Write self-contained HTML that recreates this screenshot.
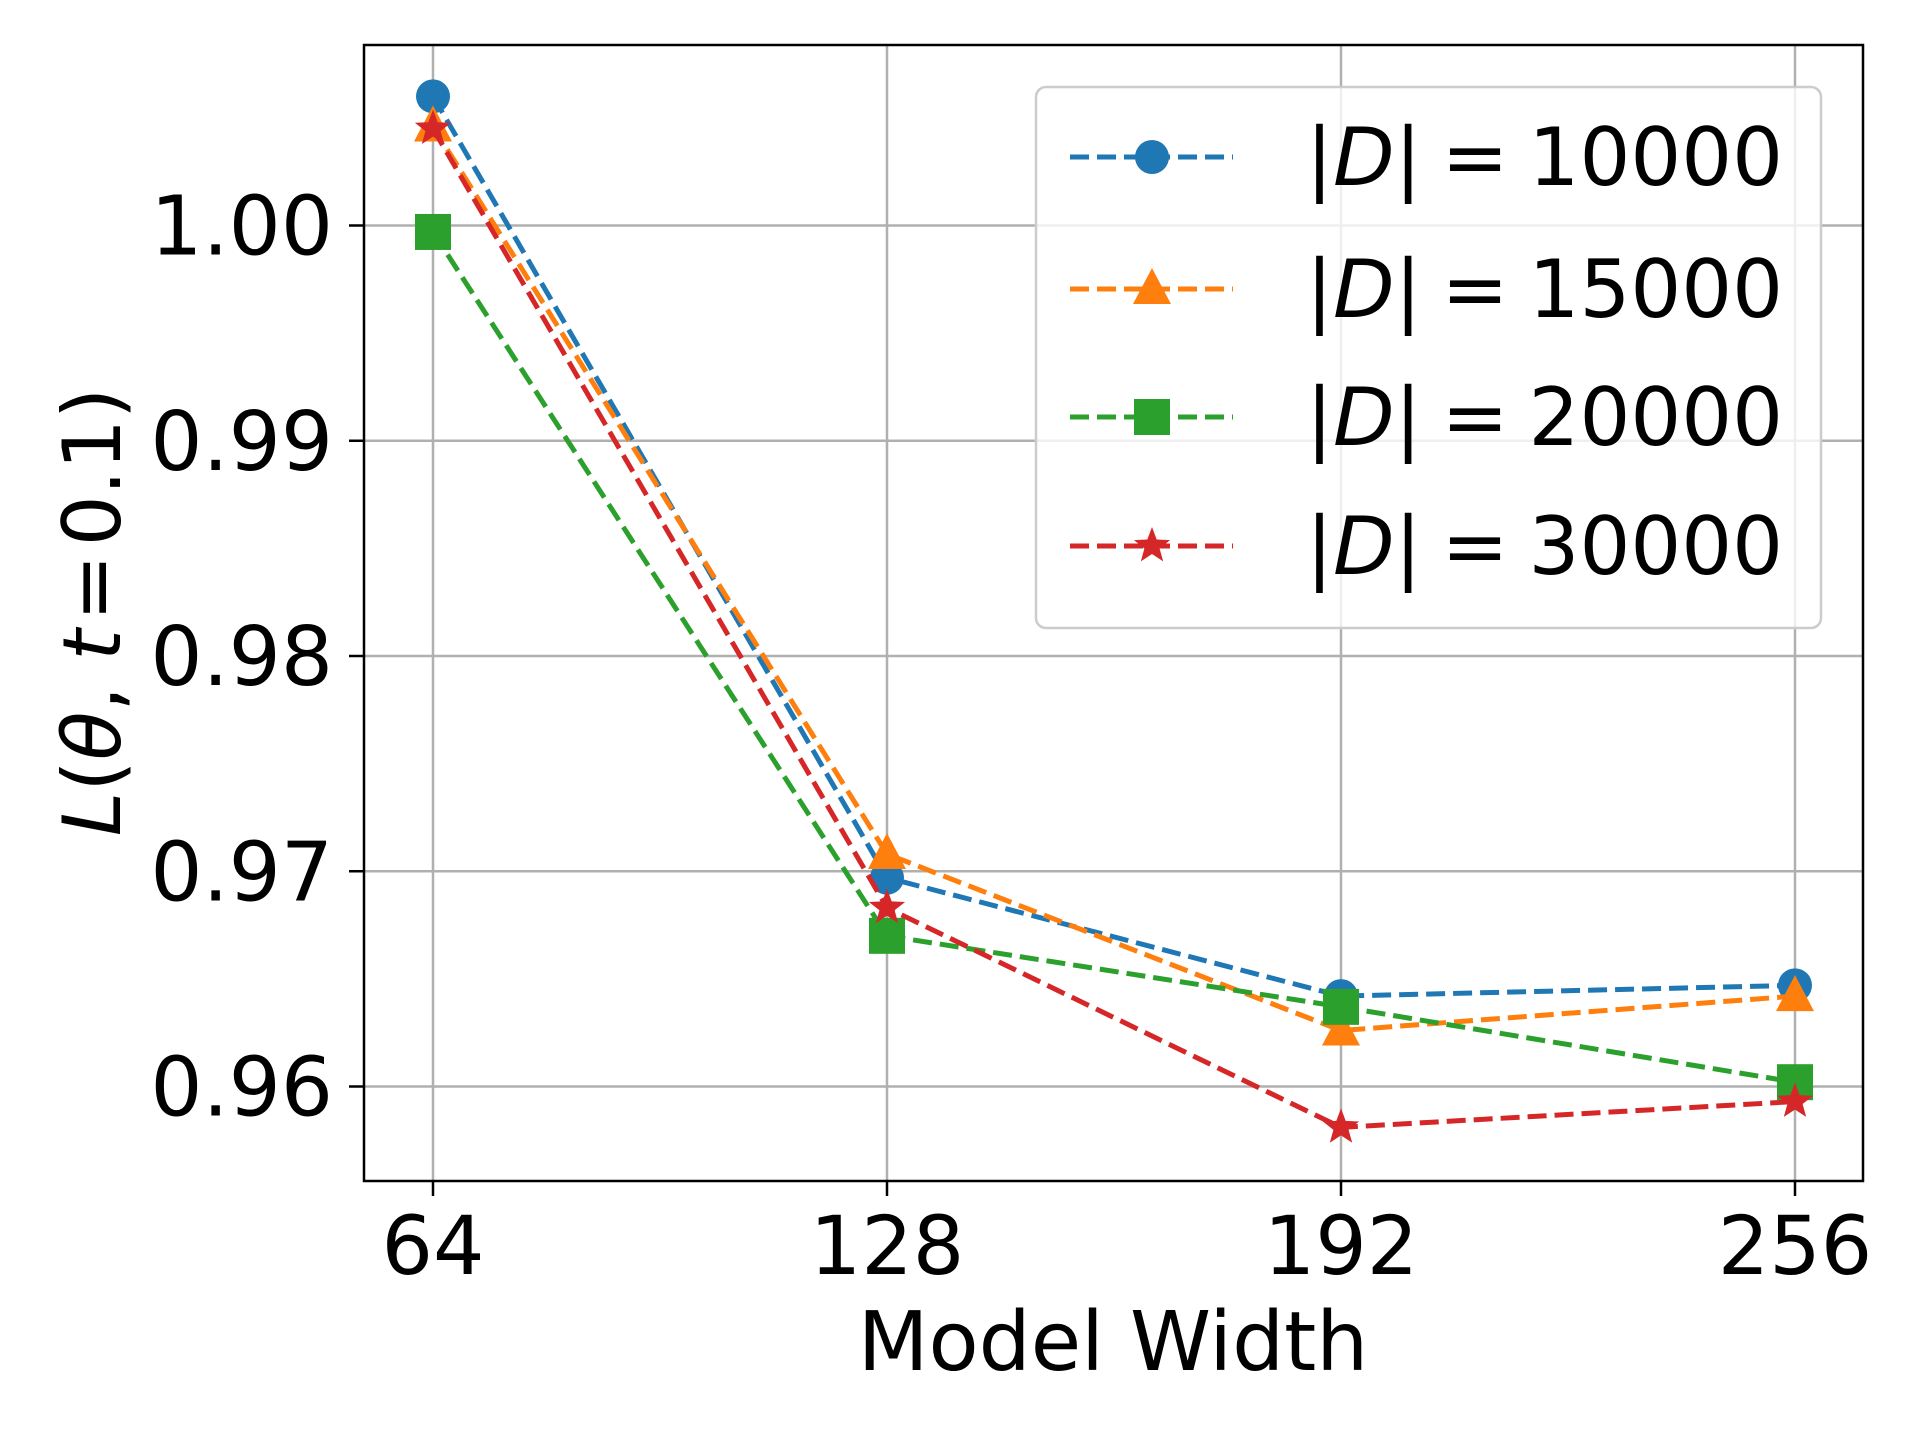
<!DOCTYPE html>
<html><head><meta charset="utf-8"><style>
html,body{margin:0;padding:0;background:#fff;}
svg{display:block;font-family:"DejaVu Sans","Liberation Sans",sans-serif;}
</style></head><body>
<svg id="chart" width="1920" height="1440" viewBox="0 0 1920 1440" xmlns="http://www.w3.org/2000/svg">
<rect width="1920" height="1440" fill="#fff"/>
<g id="grid"></g>
<g id="series"></g>
<rect x="364" y="45" width="1499" height="1136" fill="none" stroke="#000" stroke-width="2.5"/>
<g id="ticks"></g>
<text x="1113" y="1370" font-size="82" text-anchor="middle">Model Width</text>
<text transform="translate(120,612) rotate(-90)" font-size="80" text-anchor="middle"><tspan font-style="italic">L</tspan>(<tspan font-style="italic">θ</tspan>, <tspan font-style="italic">t</tspan><tspan dx="8">=</tspan><tspan dx="8">0.1)</tspan></text>
<g id="legend"></g>
</svg>
<script>
const categories = [64, 128, 192, 256];
const seriesD10000 = [1.0060, 0.9697, 0.9642, 0.9647];
const seriesD15000 = [1.0046, 0.9708, 0.9626, 0.9642];
const seriesD20000 = [0.9997, 0.9670, 0.9637, 0.9602];
const seriesD30000 = [1.0045, 0.9683, 0.9581, 0.9593];
const seriesLabels = ["10000", "15000", "20000", "30000"];
const yTicks = [0.96, 0.97, 0.98, 0.99, 1.00];
const yTickLabels = ["0.96", "0.97", "0.98", "0.99", "1.00"];

const NS = "http://www.w3.org/2000/svg";
function xScale(v){ return 433 + (v - 64) / 64 * 454; }
function yScale(v){ return 225.5 + (1.00 - v) / 0.04 * 861; }
function mk(tag, attrs, parent){
  const e = document.createElementNS(NS, tag);
  for (const k in attrs) e.setAttribute(k, attrs[k]);
  parent.appendChild(e);
  return e;
}
const grid = document.getElementById('grid');
const ticks = document.getElementById('ticks');
categories.forEach(c => {
  const x = xScale(c);
  const g = mk('line', {x1:x, x2:x, y1:45, y2:1181, stroke:'#b0b0b0', 'stroke-width':2.5}, grid);
  
  
  const t = mk('line', {x1:x, x2:x, y1:1181, y2:1196, stroke:'#000', 'stroke-width':2.5}, ticks);
  
  
  const l = mk('text', {x:x, y:1274, 'font-size':81, 'text-anchor':'middle'}, ticks);
  l.textContent = String(c);
  
  
});
yTicks.forEach((v, i) => {
  const y = yScale(v);
  const g = mk('line', {x1:364, x2:1863, y1:y, y2:y, stroke:'#b0b0b0', 'stroke-width':2.5}, grid);
  
  
  const t = mk('line', {x1:349, x2:364, y1:y, y2:y, stroke:'#000', 'stroke-width':2.5}, ticks);
  
  
  const l = mk('text', {x:333, y:y + 29, 'font-size':82, 'text-anchor':'end'}, ticks);
  l.textContent = yTickLabels[i];
  
  
});

const colors = ['#1f77b4', '#ff7f0e', '#2ca02c', '#d62728'];
const markers = ['circle', 'triangle', 'square', 'star'];
function drawMarker(parent, type, x, y, color){
  let e;
  if (type === 'circle') e = mk('circle', {cx:x, cy:y, r:17, fill:color}, parent);
  else if (type === 'square') e = mk('rect', {x:x-18, y:y-18, width:36, height:36, fill:color}, parent);
  else if (type === 'triangle') e = mk('polygon', {points:`${x},${y-21} ${x-19},${y+15} ${x+19},${y+15}`, fill:color}, parent);
  else {
    let pts = [];
    for (let k = 0; k < 10; k++) {
      const r = k % 2 === 0 ? 19 : 8;
      const a = -Math.PI / 2 + k * Math.PI / 5;
      pts.push((x + r * Math.cos(a)).toFixed(1) + ',' + (y + r * Math.sin(a)).toFixed(1));
    }
    e = mk('polygon', {points:pts.join(' '), fill:color}, parent);
  }
  return e;
}
const allSeries = [seriesD10000, seriesD15000, seriesD20000, seriesD30000];
const sg = document.getElementById('series');
allSeries.forEach((vals, si) => {
  const g = mk('g', {}, sg);
  
  
  const pts = vals.map((v, i) => xScale(categories[i]) + ',' + yScale(v)).join(' ');
  const pl = mk('polyline', {points:pts, fill:'none', stroke:colors[si], 'stroke-width':5, 'stroke-dasharray':'19,8'}, g);
  
  
  vals.forEach((v, i) => {
    const m = drawMarker(g, markers[si], xScale(categories[i]), yScale(v), colors[si]);
    
    
  });
});

const lg = document.getElementById('legend');
const box = mk('rect', {x:1036, y:87, width:785, height:541, rx:10, fill:'#fff', 'fill-opacity':0.8, stroke:'#cccccc', 'stroke-width':2.5}, lg);


const rowY = [157, 289, 417, 546];
seriesLabels.forEach((lab, si) => {
  const y = rowY[si];
  const g = mk('g', {}, lg);
  
  
  mk('line', {x1:1070, x2:1233, y1:y, y2:y, stroke:colors[si], 'stroke-width':5, 'stroke-dasharray':'19,8'}, g);
  drawMarker(g, markers[si], 1152, y, colors[si]);
  const t = mk('text', {x:1306, y:y + 28, 'font-size':80}, g);
  t.innerHTML = '|<tspan font-style="italic">D</tspan>|<tspan dx="20">=</tspan><tspan dx="20">' + lab + '</tspan>';
  
  
});
</script>
</body></html>
